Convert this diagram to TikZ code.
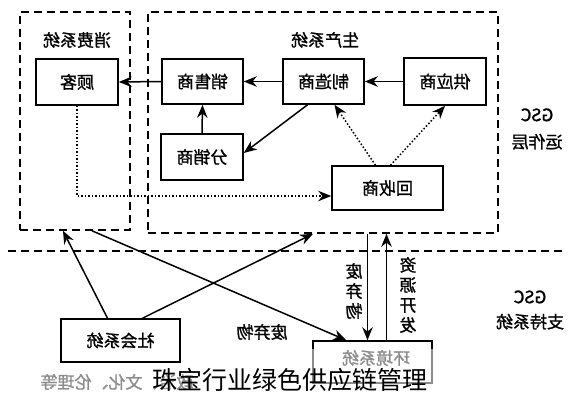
\documentclass[tikz,border=0pt]{standalone}
\usepackage{fontspec}
\setmainfont{Noto Sans CJK SC}
\newfontfamily\boldcjk[FakeBold=1.2]{Noto Sans CJK SC}
\usetikzlibrary{arrows.meta}
\newcommand{\mirtxt}[1]{\reflectbox{#1}}

\begin{document}
\begin{tikzpicture} [x=1pt, y=-1pt,
						box/.style={draw, line width=1.6pt, inner sep=0pt, font=\boldcjk\fontsize{17}{20}\selectfont},
						frame/.style={draw, line width=1.6pt, dash pattern=on 8pt off 5pt, inner sep=0pt},
						arr/.style={-{Stealth[length=13pt, width=10.5pt]}, line width=1.5pt},
						dot/.style={arr, dash pattern=on 1.5pt off 2pt},
						lbl/.style={font=\boldcjk\fontsize{17}{20}\selectfont, align=center, inner sep=0pt}]

						\useasboundingbox (0,0) rectangle (577,400);

						\node[frame, minimum width=110pt, minimum height=218pt] (F1) at (75,121) {};
						\node[frame, minimum width=350pt, minimum height=221pt] (F2) at (323,122.5) {};

						\coordinate (D1) at (8,251);
						\coordinate (D2) at (565,251);
						\draw[line width=1.6pt, dash pattern=on 8pt off 5pt] (D1) -- (D2);

						\node[box, minimum width=82pt, minimum height=46pt] (N1) at (77,82) {\mirtxt{顾客}};
						\node[box, minimum width=81pt, minimum height=45pt] (N2) at (202.5,81.5) {\mirtxt{销售商}};
						\node[box, minimum width=81pt, minimum height=45pt] (N3) at (323.5,81.5) {\mirtxt{制造商}};
						\node[box, minimum width=82pt, minimum height=47pt] (N4) at (445,81.5) {\mirtxt{供应商}};
						\node[box, minimum width=82pt, minimum height=46pt] (N5) at (202,157) {\mirtxt{分销商}};
						\node[box, minimum width=111pt, minimum height=44pt] (N6) at (387.5,188) {\mirtxt{回收商}};
						\node[box, minimum width=119pt, minimum height=43pt] (S1) at (120.5,340.5) {\mirtxt{社会系统}};
						\node[box, minimum width=119pt, minimum height=42pt] (S2) at (372.5,362) {};
						\node[lbl] (S2t) at (376,358) {\mirtxt{环境系统}};

						\node[lbl] (L1) at (77,40) {\mirtxt{消费系统}};
						\node[lbl] (L2) at (325,40) {\mirtxt{生产系统}};
						\node[lbl] (L3) at (537,129) {\mirtxt{GSC}\\[7pt]\mirtxt{运作层}};
						\node[lbl] (L4) at (530,310) {\mirtxt{GSC}\\[5pt]\mirtxt{支持系统}};
						\node[lbl] (L5) at (262,332) {\mirtxt{废弃物}};
						\node[lbl] (L6) at (354,291) {\mirtxt{废}\\\mirtxt{弃}\\\mirtxt{物}};
						\node[lbl] (L7) at (408,295) {\mirtxt{资}\\\mirtxt{源}\\\mirtxt{开}\\\mirtxt{发}};
						\node[lbl, text=black!45] (L8) at (117,382) {\mirtxt{政治、文化、伦理等}};

						\draw[arr] (N2.west) -- (N1.east);
						\draw[arr] (N3.west) -- (N2.east);
						\draw[arr] (N4.west) -- (N3.east);
						\draw[arr] (N5.north) -- (N2.south);
						\draw[arr] ([xshift=-16pt]N3.south) -- ([yshift=4pt]N5.east);
						\draw[dot] ([xshift=-12pt]N6.north) -- ([xshift=11pt]N3.south);
						\draw[dot] ([xshift=3pt]N6.north) -- (N4.south);
						\draw[dot] (N1.south) |- ([yshift=-8pt]N6.west);

						\draw[arr] ([xshift=-13pt]S1.north) -- ([xshift=-12pt]F1.south);
						\draw[arr] ([xshift=22pt]S1.north) -- ([xshift=-10pt]F2.south);
						\draw[arr] ([xshift=17pt]F1.south) -- ([xshift=34pt]S2.north west);
						\draw[arr] ([xshift=-5pt]S2.north |- F2.south) -- ([xshift=-5pt]S2.north);
						\draw[arr] ([xshift=14pt]S2.north) -- ([xshift=14pt]S2.north |- F2.south);

						\fill[white, opacity=0.55] (305,349) rectangle (445,400);

						\node[font=\fontsize{25}{28}\selectfont, inner sep=0pt] (T1) at (290,380) {珠宝行业绿色供应链管理};

					\end{tikzpicture}
\end{document}
